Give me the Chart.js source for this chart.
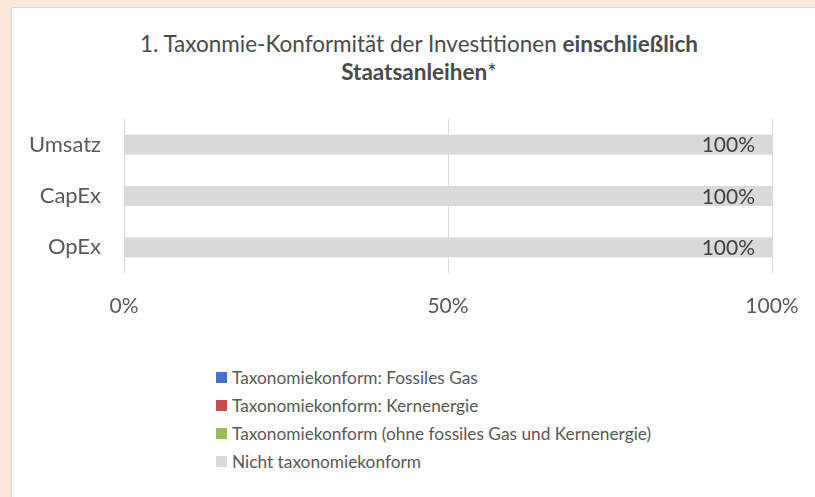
<!DOCTYPE html>
<html>
<head>
<meta charset="utf-8">
<script src="https://cdn.jsdelivr.net/npm/chart.js@4/dist/chart.umd.min.js"></script>
<style>
  html, body { margin: 0; padding: 0; }
  body { width: 815px; height: 497px; background: #fde9d9; position: relative; overflow: hidden; font-family: Lato, "Open Sans", sans-serif; }
  #panel { position: absolute; left: 11px; top: 7px; width: 815px; height: 500px; background: #fff; border: 1px solid #d9d9d9; box-sizing: border-box; }
  #title { position: absolute; left: 0; top: 30px; width: 838px; text-align: center; color: #4a4a4a; font-size: 22.5px; line-height: 28px; }
  #title b { font-weight: bold; }
  #wrap { position: absolute; left: 0; top: 100px; width: 815px; height: 230px; }
  #legend { position: absolute; left: 216px; top: 363px; color: #595959; font-size: 17.3px; }
  #legend .item { height: 28px; display: flex; align-items: center; }
  #legend .box { width: 11px; height: 11px; margin-right: 5px; }
</style>
</head>
<body>
<div id="panel"></div>
<div id="title">1. Taxonmie-Konformität der Investitionen <b>einschließlich<br>Staatsanleihen</b>*</div>
<div id="wrap"><canvas id="chart"></canvas></div>
<div id="legend"></div>
<script>
// data
const categories = ['Umsatz', 'CapEx', 'OpEx'];
const seriesNames = [
  'Taxonomiekonform: Fossiles Gas',
  'Taxonomiekonform: Kernenergie',
  'Taxonomiekonform (ohne fossiles Gas und Kernenergie)',
  'Nicht taxonomiekonform'
];
const fossilGas = [0, 0, 0];
const nuclear = [0, 0, 0];
const alignedOther = [0, 0, 0];
const notAligned = [100, 100, 100];
const xTicks = [0, 50, 100];
const colors = ['#4472c4', '#c0504d', '#9bbb59', '#d9d9d9'];

const textColor = '#595959';

const valueLabels = {
  id: 'valueLabels',
  afterDatasetsDraw(chart) {
    const ctx = chart.ctx;
    ctx.save();
    ctx.font = '21px Lato, "Open Sans", sans-serif';
    ctx.fillStyle = '#404040';
    ctx.textAlign = 'right';
    ctx.textBaseline = 'middle';
    chart.data.datasets.forEach((ds, di) => {
      chart.getDatasetMeta(di).data.forEach((bar, i) => {
        if (!ds.data[i]) return;
        ctx.fillText(ds.data[i] + '%', bar.x - 17, bar.y + 1);
      });
    });
    ctx.restore();
  }
};

const values = [fossilGas, nuclear, alignedOther, notAligned];
const datasets = seriesNames.map((name, i) => ({
  label: name,
  data: values[i],
  backgroundColor: colors[i],
  barPercentage: 0.39,
  categoryPercentage: 1
}));

new Chart(document.getElementById('chart'), {
  type: 'bar',
  data: { labels: categories, datasets: datasets },
  options: {
    indexAxis: 'y',
    responsive: true,
    maintainAspectRatio: false,
    animation: false,
    layout: { padding: { top: 19, right: 43, left: 0, bottom: 0 } },
    plugins: {
      legend: { display: false },
      title: { display: false },
      tooltip: { enabled: false }
    },
    scales: {
      x: {
        stacked: true,
        min: 0,
        max: 100,
        afterBuildTicks(scale) { scale.ticks = xTicks.map(v => ({ value: v })); },
        afterFit(scale) {
          scale.height = 57;
          scale.paddingLeft = 0;
          scale.paddingRight = 0;
        },
        grid: { color: '#d9d9d9', lineWidth: 1, drawTicks: false },
        border: { display: false },
        ticks: {
          padding: 21,
          color: textColor,
          font: { family: 'Lato', size: 21 },
          callback: v => v + '%'
        }
      },
      y: {
        stacked: true,
        afterFit(scale) {
          scale.width = 124;
          scale.paddingTop = 0;
          scale.paddingBottom = 0;
        },
        grid: { display: false, drawTicks: false },
        border: { display: false },
        ticks: {
          padding: 23,
          color: textColor,
          font: { family: 'Lato', size: 22 }
        }
      }
    }
  },
  plugins: [valueLabels]
});

// legend as text below the chart
const legend = document.getElementById('legend');
seriesNames.forEach((name, i) => {
  const row = document.createElement('div');
  row.className = 'item';
  const box = document.createElement('span');
  box.className = 'box';
  box.style.background = colors[i];
  const label = document.createElement('span');
  label.textContent = name;
  row.appendChild(box);
  row.appendChild(label);
  legend.appendChild(row);
});
</script>
</body>
</html>
